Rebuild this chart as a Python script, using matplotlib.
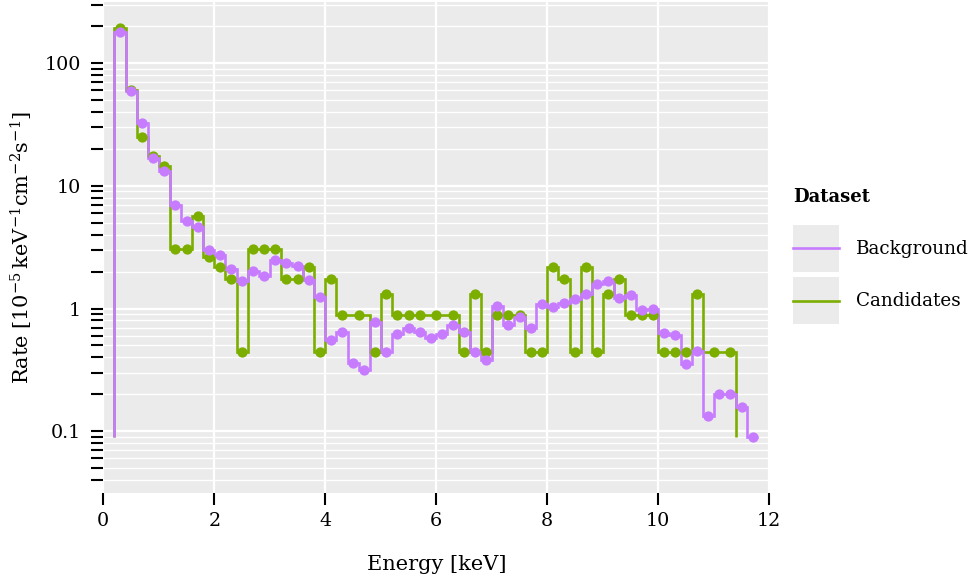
import matplotlib
matplotlib.use("Agg")
import matplotlib.pyplot as plt
import numpy as np
from matplotlib.patches import Patch
from matplotlib.lines import Line2D
from matplotlib.legend_handler import HandlerTuple, HandlerLine2D
from matplotlib.ticker import FixedLocator, NullFormatter, FixedFormatter

# ---------------- data ----------------
bg_edges = [0.2, 0.4, 0.6, 0.8, 1.0, 1.2, 1.4, 1.6, 1.8, 2.0,
            2.2, 2.4, 2.6, 2.8, 3.0, 3.2, 3.4, 3.6, 3.8, 4.0,
            4.2, 4.4, 4.6, 4.8, 5.0, 5.2, 5.4, 5.6, 5.8, 6.0,
            6.2, 6.4, 6.6, 6.8, 7.0, 7.2, 7.4, 7.6, 7.8, 8.0,
            8.2, 8.4, 8.6, 8.8, 9.0, 9.2, 9.4, 9.6, 9.8, 10.0,
            10.2, 10.4, 10.6, 10.8, 11.0, 11.2, 11.4, 11.6, 11.8]
bg_rate = [178, 59.6, 32.7, 16.8, 13.3, 6.98, 5.17, 4.59, 3.0, 2.75,
           2.09, 1.68, 2.02, 1.84, 2.48, 2.36, 2.22, 1.71, 1.25, 0.554,
           0.647, 0.36, 0.315, 0.77, 0.445, 0.62, 0.69, 0.647, 0.575, 0.625,
           0.734, 0.647, 0.445, 0.38, 1.05, 0.734, 0.848, 0.69, 1.09, 1.03,
           1.10, 1.19, 1.31, 1.60, 1.69, 1.23, 1.29, 0.97, 1.0,
           0.628, 0.608, 0.353, 0.451, 0.133, 0.201, 0.201, 0.157, 0.089]

cand_edges = [0.2, 0.4, 0.6, 0.8, 1.0, 1.2, 1.4, 1.6, 1.8, 2.0,
              2.2, 2.4, 2.6, 2.8, 3.0, 3.2, 3.4, 3.6, 3.8, 4.0,
              4.2, 4.4, 4.8, 5.0, 5.2, 5.4, 5.6, 5.8, 6.2, 6.4,
              6.6, 6.8, 7.0, 7.2, 7.4, 7.6, 7.8, 8.0, 8.2, 8.4,
              8.6, 8.8, 9.0, 9.2, 9.4, 9.6, 9.8, 10.0, 10.2, 10.4,
              10.6, 10.8, 11.2, 11.4]
cand_rate = [192, 60, 25.1, 17.6, 14.5, 3.05, 3.05, 5.67, 2.63, 2.19,
             1.75, 0.44, 3.05, 3.05, 3.05, 1.75, 1.75, 2.19, 0.44, 1.75,
             0.88, 0.88, 0.44, 1.31, 0.88, 0.88, 0.88, 0.88, 0.88, 0.44,
             1.31, 0.44, 0.88, 0.88, 0.88, 0.44, 0.44, 2.19, 1.75, 0.44,
             2.19, 0.44, 1.31, 1.75, 0.88, 0.88, 0.88, 0.44, 0.44, 0.44,
             1.31, 0.44, 0.44]

series_names = ["Background", "Candidates"]
series_colors = ["#C77CFF", "#7CAE00"]

x_ticks = [0, 2, 4, 6, 8, 10, 12]
y_major = [0.1, 1, 10, 100]
y_major_labels = ["0.1", "1", "10", "100"]
y_minor = [0.04, 0.05, 0.06, 0.07, 0.08, 0.09,
           0.2, 0.3, 0.4, 0.5, 0.6, 0.7, 0.8, 0.9,
           2, 3, 4, 5, 6, 7, 8, 9,
           20, 30, 40, 50, 60, 70, 80, 90, 200, 300]

# ---------------- style ----------------
FS = 13.8        # tick labels
FS_AX = 15.0     # axis titles
FS_LEG = 13.2    # legend labels
plt.rcParams['font.family'] = ['DejaVu Serif']
plt.rcParams['mathtext.fontset'] = 'dejavuserif'

W, H = 972, 585
fig = plt.figure(figsize=(W / 100, H / 100), dpi=100)
ax = fig.add_axes([103.3 / W, (H - 492.6) / H, 666.0 / W, 490.8 / H])
ax.set_facecolor("#EBEBEB")
for s in ax.spines.values():
    s.set_visible(False)

ax.set_yscale("log")
ax.set_xlim(0, 12)
ax.set_ylim(10 ** -1.5, 10 ** 2.5)

ax.xaxis.set_major_locator(FixedLocator(x_ticks))
ax.yaxis.set_major_locator(FixedLocator(y_major))
ax.yaxis.set_major_formatter(FixedFormatter(y_major_labels))
ax.yaxis.set_minor_locator(FixedLocator(y_minor))
ax.yaxis.set_minor_formatter(NullFormatter())

ax.grid(True, which="major", axis="both", color="white", linewidth=1.6)
ax.grid(True, which="minor", axis="y", color="white", linewidth=1.0)
ax.set_axisbelow(True)

ax.tick_params(axis="both", which="both", direction="out", length=8.6,
               width=1.5, color="black", labelsize=FS, labelcolor="black")
ax.tick_params(axis="y", which="both", pad=7.5)
ax.tick_params(axis="x", which="both", pad=5.5)

# ---------------- series ----------------
base = min(bg_rate)
for name, edges, rate, col in [(series_names[1], cand_edges, cand_rate, series_colors[1]),
                               (series_names[0], bg_edges, bg_rate, series_colors[0])]:
    e = np.asarray(edges)
    r = np.asarray(rate)
    centers = (e[:-1] + e[1:]) / 2
    ax.stairs(r, e, baseline=base, color=col, linewidth=1.9)
    ax.plot(centers, r, "o", color=col, markersize=7.4, markeredgewidth=0)

# ---------------- labels ----------------
ax.set_xlabel("Energy [keV]", fontsize=FS_AX, va="center")
ax.set_ylabel(r"Rate [$10^{-5}\,\mathrm{keV}^{-1}\mathrm{cm}^{-2}\mathrm{s}^{-1}$]",
              fontsize=FS_AX, va="center")
ax.xaxis.set_label_coords(0.5, (492.6 - 565) / 490.8)
ax.yaxis.set_label_coords((22 - 103.3) / 666.0, 0.5)


# ---------------- legend ----------------
class CenteredLine(HandlerLine2D):
    def create_artists(self, legend, orig_handle, xdescent, ydescent,
                       width, height, fontsize, trans):
        arts = super().create_artists(legend, orig_handle, xdescent, ydescent,
                                      width, height, fontsize, trans)
        for a in arts:
            a.set_ydata(np.full_like(np.asarray(a.get_ydata(), float),
                                     height / 2 - ydescent))
        return arts


leg_handles = []
for col in series_colors:
    leg_handles.append((Patch(facecolor="#EBEBEB", edgecolor="none"),
                        Line2D([], [], color=col, linewidth=1.9)))
px = FS_LEG * 100 / 72
box_h_em = 47 / px
hh = (box_h_em - 0.245) / 0.65
leg = fig.legend(leg_handles, series_names,
                 handler_map={tuple: HandlerTuple(ndivide=1, pad=0),
                              Line2D: CenteredLine()},
                 loc="upper left", bbox_to_anchor=(793 / W, 1 - 225 / H),
                 frameon=False, fontsize=FS_LEG, borderpad=0, borderaxespad=0,
                 handlelength=46 / px, handleheight=hh,
                 handletextpad=17 / px, labelspacing=5 / px)
fig.text(793 / W, 1 - 197 / H, "Dataset", fontsize=13.0, fontweight="bold",
         ha="left", va="center")

fig.savefig("out.png", dpi=100)
